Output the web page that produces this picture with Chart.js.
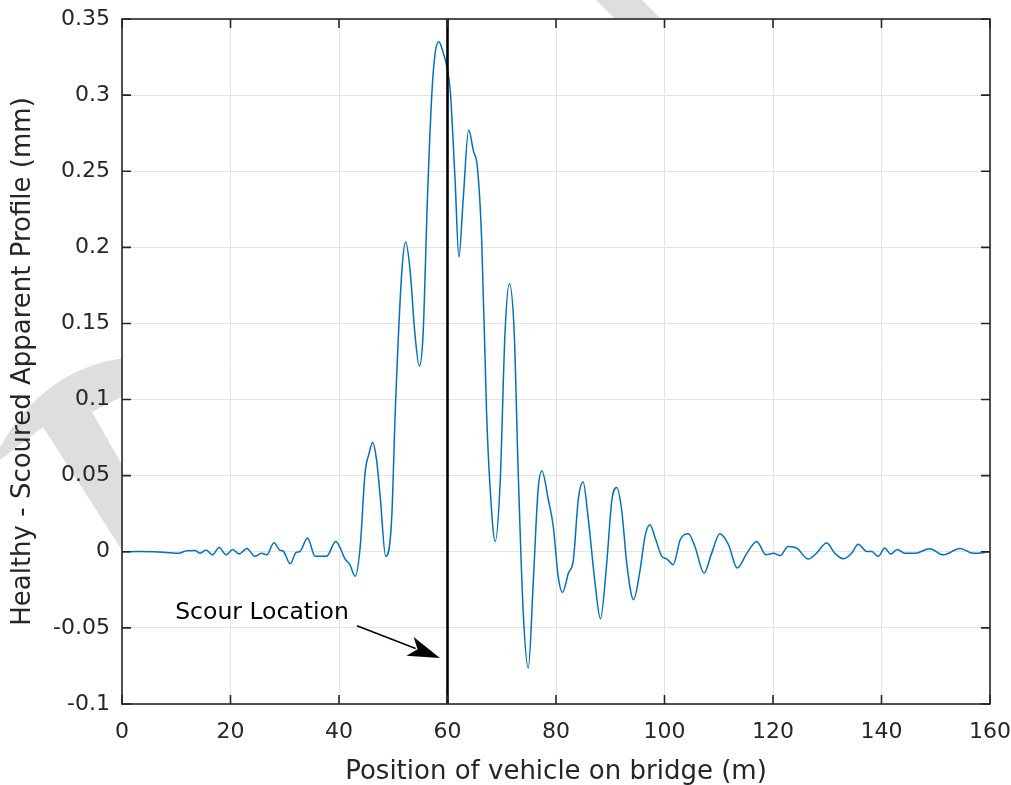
<!DOCTYPE html>
<html>
<head>
<meta charset="utf-8">
<title>Healthy - Scoured Apparent Profile</title>
<script src="https://cdn.jsdelivr.net/npm/chart.js@4.4.1/dist/chart.umd.min.js"></script>
<style>
  html, body { margin: 0; padding: 0; background: #fff; }
  #wrap { width: 1011px; height: 785px; position: relative; }
</style>
</head>
<body>
<div id="wrap"><canvas id="chart"></canvas></div>
<script>
// vehicle position along the bridge (m)
const positions = [
  0, 3, 6, 8.2, 10.4, 11.9, 13.5, 14.4, 15.5, 16.7,
  17.9, 19.2, 20.4, 21.6, 23.0, 24.5, 25.7, 26.7, 28.0, 29.1,
  29.7, 31.0, 32.1, 32.8, 34.2, 35.6, 37.7, 39.4, 40.3, 41.0,
  42.0, 43.0, 43.9, 44.8, 45.5, 46.2, 46.9, 47.6, 48.6, 49.7,
  50.4, 51.6, 52.3, 53.1, 54.0, 54.8, 55.5, 56.3, 57.1, 57.7,
  58.4, 59.2, 59.8, 60.5, 61.4, 62.1, 62.9, 63.9, 64.8, 65.5,
  66.3, 67.2, 67.8, 68.8, 69.7, 70.6, 71.4, 72.3, 73.0, 74.0,
  74.9, 75.8, 76.7, 77.4, 78.6, 79.5, 80.4, 81.2, 82.3, 83.2,
  84.1, 85.0, 85.9, 87.2, 88.2, 89.3, 90.3, 91.2, 92.1, 93.1,
  94.3, 95.5, 96.4, 97.3, 98.4, 99.5, 100.4, 101.6, 102.9, 104.4,
  105.6, 107.3, 108.7, 110.2, 111.8, 113.4, 115.2, 117.0, 118.7, 120.1,
  121.3, 122.8, 124.4, 126.5, 128.0, 129.9, 131.4, 133.0, 134.5, 135.7,
  137.3, 138.2, 139.4, 140.6, 141.7, 142.9, 144.3, 146.2, 148.9, 151.4,
  154.5, 156.9, 160
];

// healthy minus scoured apparent profile (mm)
const profileDiff = [
  0, 0.0002, 0.0001, -0.0004, -0.001, 0.0007, 0.0009, -0.001, 0.0011, -0.002,
  0.0028, -0.002, 0.0015, -0.0015, 0.0022, -0.003, -0.001, -0.002, 0.006, 0.001,
  0.0005, -0.0079, -0.0004, 0.0002, 0.009, -0.003, -0.003, 0.0068, 0.002, -0.004,
  -0.0085, -0.016, 0.003, 0.0517, 0.064, 0.0718, 0.061, 0.036, -0.003, 0.021,
  0.095, 0.185, 0.2035, 0.185, 0.143, 0.122, 0.143, 0.232, 0.300, 0.327,
  0.335, 0.328, 0.320, 0.303, 0.244, 0.1935, 0.232, 0.277, 0.263, 0.253,
  0.205, 0.092, 0.045, 0.0068, 0.045, 0.1437, 0.176, 0.1437, 0.056, -0.0425,
  -0.0764, -0.0206, 0.0407, 0.053, 0.034, 0.0166, -0.0162, -0.0267, -0.014, -0.0053,
  0.034, 0.0458, 0.0232, -0.0206, -0.044, -0.0096, 0.034, 0.0423, 0.0276, -0.0096,
  -0.0315, -0.012, 0.010, 0.0177, 0.0079, -0.003, -0.0046, -0.0085, 0.0079, 0.0118,
  0.0035, -0.014, -0.0009, 0.0118, 0.0046, -0.0107, -0.0009, 0.0068, -0.002, -0.001,
  -0.0025, 0.0035, 0.0024, -0.0048, -0.001, 0.0057, -0.001, -0.0046, -0.001, 0.005,
  0.0002, 0.0002, -0.003, 0.0024, -0.0015, 0.0015, -0.001, -0.001, 0.002, -0.002,
  0.0022, -0.001, 0
];

const xRange = [0, 160];
const xStep = 20;
const yRange = [-0.1, 0.35];
const yStep = 0.05;

const scourPosition = 60;
const scourLabel = 'Scour Location';
const labelAt = [9.8, -0.044];     // data coords of text baseline start
const arrowFrom = [43.3, -0.0486];
const arrowTo = [58.6, -0.0697];

const axisColor = '#262626';
const fontFamily = "'DejaVu Sans', 'Liberation Sans', Arial, sans-serif";

// white page, faint watermark strokes outside the axes, white axes background,
// then the MATLAB-style box with inward ticks and the annotation
const frame = {
  id: 'frame',
  beforeDraw(chart) {
    const ctx = chart.ctx;
    const a = chart.chartArea;
    ctx.save();
    ctx.fillStyle = '#fff';
    ctx.fillRect(0, 0, chart.width, chart.height);

    ctx.fillStyle = '#dedede';
    ctx.beginPath();
    ctx.moveTo(596, 0);
    ctx.lineTo(642, 0);
    ctx.lineTo(664, 22);
    ctx.lineTo(618, 22);
    ctx.closePath();
    ctx.fill();

    ctx.beginPath();
    ctx.moveTo(0, 447);
    ctx.quadraticCurveTo(45, 368, 125, 358);
    ctx.lineTo(125, 395);
    ctx.lineTo(92, 412);
    ctx.lineTo(125, 470);
    ctx.lineTo(125, 555);
    ctx.lineTo(43, 427);
    ctx.lineTo(0, 460);
    ctx.closePath();
    ctx.fill();

    ctx.fillStyle = '#fff';
    ctx.fillRect(a.left, a.top, a.right - a.left, a.bottom - a.top);
    ctx.restore();
  },
  afterDatasetsDraw(chart) {
    const ctx = chart.ctx;
    const a = chart.chartArea;
    const xs = chart.scales.x;
    const ys = chart.scales.y;
    const tick = 9;

    ctx.save();
    ctx.strokeStyle = axisColor;
    ctx.lineWidth = 1.6;
    ctx.strokeRect(a.left, a.top, a.right - a.left, a.bottom - a.top);

    ctx.beginPath();
    xs.ticks.forEach(t => {
      const px = xs.getPixelForValue(t.value);
      ctx.moveTo(px, a.bottom); ctx.lineTo(px, a.bottom - tick);
      ctx.moveTo(px, a.top); ctx.lineTo(px, a.top + tick);
    });
    ys.ticks.forEach(t => {
      const py = ys.getPixelForValue(t.value);
      ctx.moveTo(a.left, py); ctx.lineTo(a.left + tick, py);
      ctx.moveTo(a.right, py); ctx.lineTo(a.right - tick, py);
    });
    ctx.stroke();

    // annotation text
    ctx.fillStyle = '#000';
    ctx.font = '23.5px ' + fontFamily;
    ctx.textAlign = 'left';
    ctx.textBaseline = 'alphabetic';
    ctx.fillText(scourLabel, xs.getPixelForValue(labelAt[0]), ys.getPixelForValue(labelAt[1]));

    // arrow
    const x0 = xs.getPixelForValue(arrowFrom[0]), y0 = ys.getPixelForValue(arrowFrom[1]);
    const x1 = xs.getPixelForValue(arrowTo[0]), y1 = ys.getPixelForValue(arrowTo[1]);
    const ang = Math.atan2(y1 - y0, x1 - x0);
    const len = 32, half = 10;
    const ux = Math.cos(ang), uy = Math.sin(ang);
    const bx = x1 - ux * len, by = y1 - uy * len;
    ctx.strokeStyle = '#000';
    ctx.lineWidth = 1.4;
    ctx.beginPath();
    ctx.moveTo(x0, y0);
    ctx.lineTo(bx + ux * 6, by + uy * 6);
    ctx.stroke();
    ctx.beginPath();
    ctx.moveTo(x1, y1);
    ctx.lineTo(bx - uy * half, by + ux * half);
    ctx.lineTo(bx + ux * 8, by + uy * 8);
    ctx.lineTo(bx + uy * half, by - ux * half);
    ctx.closePath();
    ctx.fill();
    ctx.restore();
  }
};

const fmt = v => String(+Number(v).toFixed(2));

new Chart(document.getElementById('chart'), {
  type: 'line',
  data: {
    datasets: [
      {
        label: scourLabel,
        data: [{ x: scourPosition, y: yRange[0] }, { x: scourPosition, y: yRange[1] }],
        borderColor: '#000',
        borderWidth: 2.6,
        pointRadius: 0,
        order: 0
      },
      {
        label: 'Healthy - Scoured Apparent Profile',
        data: positions.map((x, i) => ({ x: x, y: profileDiff[i] })),
        borderColor: '#0072BD',
        borderWidth: 1.5,
        pointRadius: 0,
        cubicInterpolationMode: 'monotone',
        order: 1
      }
    ]
  },
  options: {
    responsive: true,
    maintainAspectRatio: false,
    animation: false,
    layout: { padding: { top: 19, right: 21, left: 0, bottom: 0 } },
    plugins: { legend: { display: false }, tooltip: { enabled: false } },
    scales: {
      x: {
        type: 'linear',
        min: xRange[0],
        max: xRange[1],
        grid: { color: '#e3e3e3', drawTicks: false },
        border: { display: false },
        ticks: {
          stepSize: xStep,
          padding: 15,
          maxRotation: 0,
          color: axisColor,
          font: { family: fontFamily, size: 22 },
          callback: fmt
        },
        title: {
          display: true,
          text: 'Position of vehicle on bridge (m)',
          color: axisColor,
          font: { family: fontFamily, size: 26, lineHeight: 1 },
          padding: { top: 0, bottom: 0 }
        },
        afterFit(scale) {
          scale.height = 81;
          scale.paddingLeft = 0;
          scale.paddingRight = 0;
        }
      },
      y: {
        type: 'linear',
        min: yRange[0],
        max: yRange[1],
        grid: { color: '#e3e3e3', drawTicks: false },
        border: { display: false },
        ticks: {
          stepSize: yStep,
          padding: 12,
          color: axisColor,
          font: { family: fontFamily, size: 22 },
          callback: fmt
        },
        title: {
          display: true,
          text: 'Healthy - Scoured Apparent Profile (mm)',
          color: axisColor,
          font: { family: fontFamily, size: 26, lineHeight: 1 },
          padding: { top: 10, bottom: 0 }
        },
        afterFit(scale) {
          scale.width = 122;
          scale.paddingTop = 0;
          scale.paddingBottom = 0;
        }
      }
    }
  },
  plugins: [frame]
});
</script>
</body>
</html>
